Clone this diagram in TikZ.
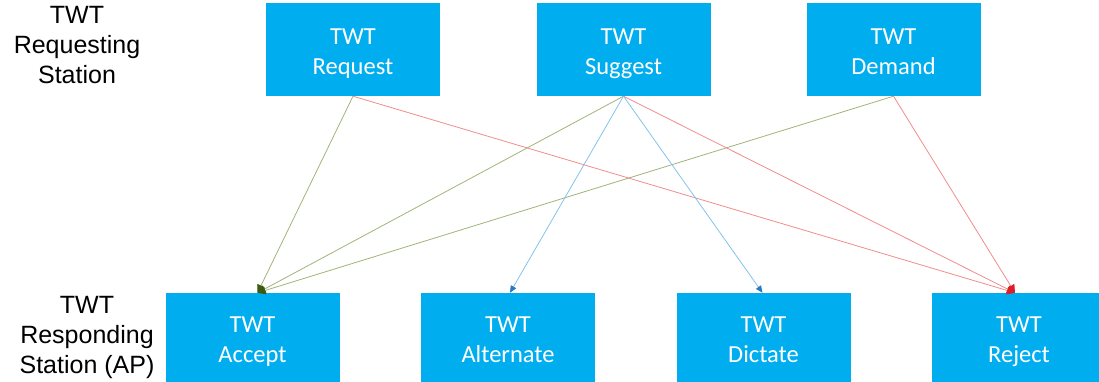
\documentclass[tikz,border=0pt]{standalone}
\usepackage{fontspec}
\setmainfont{Liberation Sans}
\newfontfamily\boxfont{Carlito}
\usetikzlibrary{arrows.meta}
\newcommand\bxs{\rule[-5pt]{0pt}{30pt}}
\definecolor{boxblue}{RGB}{0,174,239}
\definecolor{lgreen}{RGB}{160,180,120}
\definecolor{dgreen}{RGB}{60,90,20}
\definecolor{lred}{RGB}{240,140,140}
\definecolor{dred}{RGB}{220,30,40}
\definecolor{lblue}{RGB}{130,195,235}
\definecolor{dblue}{RGB}{40,120,200}
\begin{document}
\begin{tikzpicture}[x=1pt,y=-1pt,
  tbox/.style={fill=boxblue,draw=none,minimum width=174pt,minimum height=93pt,inner sep=0pt,
    text=white,font=\boxfont\fontsize{24.5}{30}\selectfont,align=center},
  bbox/.style={tbox,minimum height=89pt},
  lbl/.style={font=\fontsize{25}{30}\selectfont,align=center,inner sep=0pt},
  garr/.style={draw=lgreen,line width=0.8pt,-{Triangle[length=8pt,width=8pt,fill=dgreen,color=dgreen]}},
  rarr/.style={draw=lred,line width=0.8pt,-{Triangle[length=8pt,width=8pt,fill=dred,color=dred]}},
  barr/.style={draw=lblue,line width=0.8pt,-{Triangle[length=7pt,width=6pt,fill=dblue,color=dblue]}}]
\useasboundingbox (0,0) rectangle (1099,382);
\node[lbl] (lreq) at (77,48) {TWT\strut\\Requesting\strut\\Station\strut};
\node[lbl] (lresp) at (87,337) {TWT\strut\\Responding\strut\\Station (AP)\strut};
\node[tbox] (req) at (353,49.5) {TWT\bxs\\Request\bxs};
\node[tbox] (sug) at (623.5,49.5) {TWT\bxs\\Suggest\bxs};
\node[tbox] (dem) at (893.5,49.5) {TWT\bxs\\Demand\bxs};
\node[bbox] (acc) at (252.5,337.5) {TWT\bxs\\Accept\bxs};
\node[bbox] (alt) at (508,337.5) {TWT\bxs\\Alternate\bxs};
\node[bbox] (dic) at (763.5,337.5) {TWT\bxs\\Dictate\bxs};
\node[bbox] (rej) at (1019,337.5) {TWT\bxs\\Reject\bxs};
\coordinate (accin) at ([xshift=5pt]acc.north);
\coordinate (rejin) at ([xshift=-4pt]rej.north);
\draw[garr] (req.south) -- (accin);
\draw[garr] (sug.south) -- (accin);
\draw[garr] (dem.south) -- (accin);
\draw[rarr] (req.south) -- (rejin);
\draw[rarr] (sug.south) -- (rejin);
\draw[rarr] (dem.south) -- (rejin);
\draw[barr] (sug.south) -- ([xshift=2pt]alt.north);
\draw[barr] (sug.south) -- ([xshift=-1pt]dic.north);
\end{tikzpicture}
\end{document}
